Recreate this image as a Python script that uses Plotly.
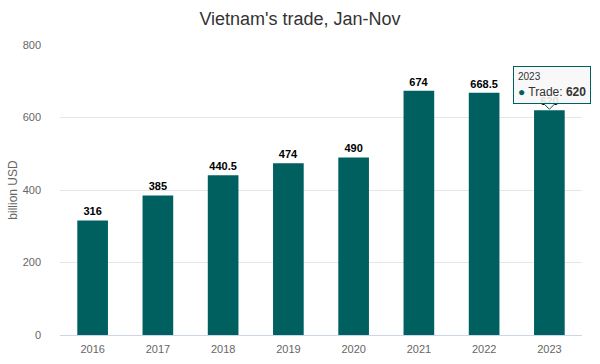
import plotly.graph_objects as go

years = ["2016", "2017", "2018", "2019", "2020", "2021", "2022", "2023"]
trade = [316, 385, 440.5, 474, 490, 674, 668.5, 620]
labels = ["316", "385", "440.5", "474", "490", "674", "668.5", "620"]

bar_color = "#006060"
font_family = "Liberation Sans, Arial, Helvetica, sans-serif"

fig = go.Figure()
fig.add_trace(go.Bar(
    x=years, y=trade, name="Trade",
    marker=dict(color=bar_color, line=dict(width=0)),
    text=labels, textposition="outside", cliponaxis=False,
    textfont=dict(family=font_family, size=11, color="#000000"),
    texttemplate="<b>%{text}</b>",
    hoverinfo="skip",
))

# Tooltip shown on the last bar (category index of the last year)
last = len(years) - 1
# small pointer of the tooltip
fig.add_shape(
    type="path", xref="x", yref="y", xsizemode="pixel", ysizemode="pixel",
    xanchor=last, yanchor=trade[last],
    path="M -6 7 L 0 1 L 6 7 Z",
    fillcolor="rgba(247,247,247,1)", line=dict(color=bar_color, width=1), layer="above",
)
fig.add_annotation(
    x=last, y=trade[last], xref="x", yref="y",
    text=("<span style='font-size:10px;color:#333333'>" + years[last] + "</span><br>"
          "<span style='color:" + bar_color + "'>●</span> Trade: <b>" + labels[last] + "</b>"),
    showarrow=False, align="left", valign="middle", yanchor="bottom", xanchor="center",
    xshift=3, yshift=6, width=68, height=28,
    bgcolor="rgba(247,247,247,0.9)", bordercolor=bar_color, borderwidth=1,
    borderpad=4, font=dict(family=font_family, size=12, color="#333333"),
)

fig.update_layout(
    width=600, height=364,
    margin=dict(l=60, r=18, t=45, b=29, autoexpand=False),
    paper_bgcolor="white", plot_bgcolor="white",
    title=dict(text="Vietnam's trade, Jan-Nov", x=0.5, xanchor="center", y=0.965, yanchor="top",
               font=dict(family=font_family, size=18, color="#333333")),
    showlegend=False,
    bargap=0.53,
    font=dict(family=font_family),
    xaxis=dict(
        type="category", range=[-0.5, last + 0.5], showgrid=False, showline=True,
        linecolor="#ccd6eb", linewidth=1,
        ticks="", tickfont=dict(size=11, color="#666666"), ticklabelstandoff=4,
    ),
    yaxis=dict(
        range=[0, 800], tickvals=[0, 200, 400, 600, 800], showgrid=True, gridcolor="#e6e6e6",
        zeroline=False, showline=False, tickfont=dict(size=11, color="#666666"),
        title=dict(text="billion USD", font=dict(size=12, color="#666666"), standoff=2),
        ticklabelstandoff=18,
    ),
)

fig.write_html("out.html", config={"displayModeBar": False},
               post_script="document.body.style.margin='0';")
